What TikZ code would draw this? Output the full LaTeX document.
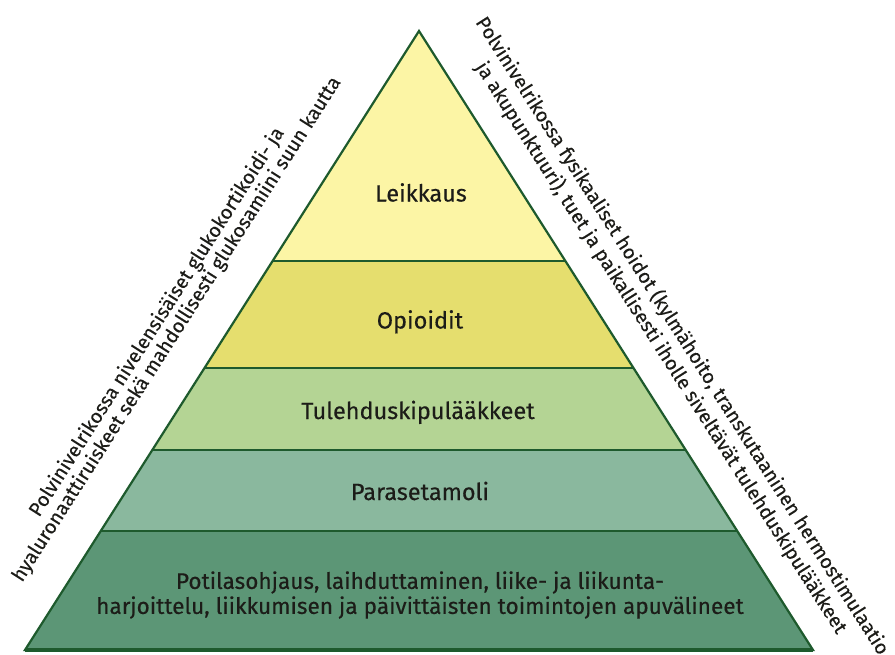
\documentclass[tikz,border=0pt]{standalone}
\usepackage{fontspec}
\setmainfont{Fira Sans}[FakeBold=0.3]
\usetikzlibrary{calc}
\definecolor{bandA}{RGB}{252,245,165}
\definecolor{bandB}{RGB}{229,222,110}
\definecolor{bandC}{RGB}{180,212,148}
\definecolor{bandD}{RGB}{138,184,158}
\definecolor{bandE}{RGB}{92,150,118}
\definecolor{edgegreen}{RGB}{30,90,45}
\definecolor{txt}{RGB}{28,28,24}
\begin{document}
\begin{tikzpicture}[x=1pt,y=-1pt,
  edgeline/.style={draw=edgegreen,line width=2.2pt},
  lbl/.style={font=\fontsize{23.5}{27}\selectfont,text=txt,inner sep=0pt,anchor=base},
  sidetext/.style={font=\fontsize{19.7}{23}\selectfont,text=txt,inner sep=0pt,anchor=base west}]
\useasboundingbox (0,0) rectangle (895,654);
\clip (0,0) rectangle (895,654);
% pyramid corners
\coordinate (ap) at (419,31);
\coordinate (bl) at (25,650);
\coordinate (br) at (813,650);
\coordinate (l1) at (272.6,261); \coordinate (r1) at (565.4,261);
\coordinate (l2) at (204.5,368); \coordinate (r2) at (633.5,368);
\coordinate (l3) at (152.3,450); \coordinate (r3) at (685.7,450);
\coordinate (l4) at (100.8,531); \coordinate (r4) at (737.2,531);
% bands
\fill[bandA] (ap) -- (l1) -- (r1) -- cycle;
\fill[bandB] (l1) -- (l2) -- (r2) -- (r1) -- cycle;
\fill[bandC] (l2) -- (l3) -- (r3) -- (r2) -- cycle;
\fill[bandD] (l3) -- (l4) -- (r4) -- (r3) -- cycle;
\fill[bandE] (l4) -- (bl) -- (br) -- (r4) -- cycle;
% boundaries
\draw[edgeline] (l1) -- (r1);
\draw[edgeline] (l2) -- (r2);
\draw[edgeline] (l3) -- (r3);
\draw[edgeline] (l4) -- (r4);
\draw[edgeline,line join=miter] (ap) -- (bl) -- (br) -- cycle;
\draw[draw=edgegreen,line width=3.2pt] (bl) -- (br);
% labels
\node[lbl] (leik) at (421,201.5) {Leikkaus};
\node[lbl] (opio) at (420,328.5) {Opioidit};
\node[lbl] (tule) at (418,419) {Tulehduskipulääkkeet};
\node[lbl] (para) at (420,500) {Parasetamoli};
\node[font=\fontsize{22.6}{25}\selectfont,text=txt,inner sep=0pt,align=center] (poti) at (420,595)
  {Potilasohjaus, laihduttaminen, liike- ja liikunta-\\harjoittelu, liikkumisen ja päivittäisten toimintojen apuvälineet};
% side texts
\node[sidetext,rotate=57.5] (left1) at (39,518) {Polvinivelrikossa nivelensisäiset glukokortikoidi- ja};
\node[sidetext,rotate=57.5] (left2) at (22,583) {hyaluronaattiruiskeet sekä mahdollisesti glukosamiini suun kautta};
\node[sidetext,rotate=-57.5] (right1) at (475,22) {Polvinivelrikossa fysikaaliset hoidot (kylmähoito, transkutaaninen hermostimulaatio};
\node[sidetext,rotate=-57.5] (right2) at (475,67) {ja akupunktuuri), tuet ja paikallisesti iholle siveltävät tulehduskipulääkkeet};
\end{tikzpicture}
\end{document}
